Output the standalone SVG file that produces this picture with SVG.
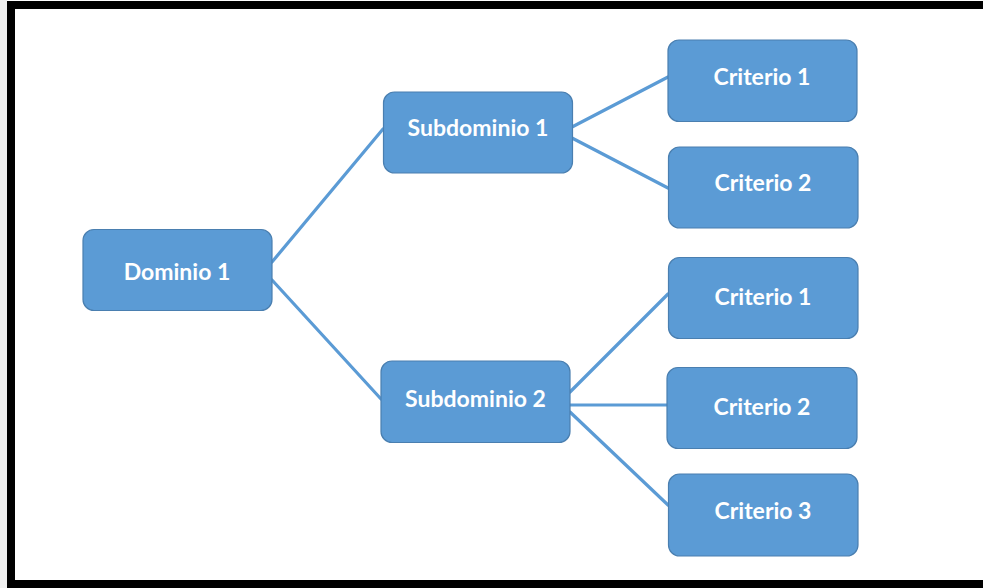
<svg xmlns="http://www.w3.org/2000/svg" width="983" height="588" viewBox="0 0 983 588">
<style>
.node rect{fill:#5b9bd5;stroke:#4a7fb0;stroke-width:1.2}
.node text{fill:#ffffff;font-family:Lato,"Open Sans","Liberation Sans",sans-serif;font-weight:bold;font-size:23px;text-anchor:middle}
.conn line{stroke:#5b9bd5;stroke-width:3.2;stroke-linecap:round}
</style>
<rect x="0" y="0" width="983" height="588" fill="#ffffff"/>
<rect x="0" y="0" width="7" height="588" fill="#f0f0f0"/>
<g id="frame" fill="#000000">
<rect x="7" y="1" width="976" height="8"/>
<rect x="7" y="1" width="8" height="587"/>
<rect x="7" y="580" width="976" height="8"/>
</g>
<g id="connectors" class="conn">
<line x1="272" y1="262" x2="383" y2="129"/>
<line x1="272" y1="280" x2="381" y2="399"/>
<line x1="572" y1="127" x2="668" y2="77"/>
<line x1="572" y1="138" x2="668" y2="188"/>
<line x1="570" y1="392" x2="668" y2="294"/>
<line x1="570" y1="405" x2="667" y2="405"/>
<line x1="570" y1="412" x2="668" y2="505"/>
</g>
<g id="dominio1" class="node"><rect x="83" y="229.5" width="189" height="81" rx="11"/><text x="177" y="279.5">Dominio 1</text></g>
<g id="subdominio1" class="node"><rect x="383.5" y="92" width="189" height="81" rx="11"/><text x="478" y="135.5">Subdominio 1</text></g>
<g id="subdominio2" class="node"><rect x="381" y="361" width="189" height="81.5" rx="11"/><text x="475.5" y="406.5">Subdominio 2</text></g>
<g id="criterio1a" class="node"><rect x="668" y="40" width="189" height="81.5" rx="11"/><text x="762" y="84.5">Criterio 1</text></g>
<g id="criterio2a" class="node"><rect x="668.5" y="147" width="189.5" height="81" rx="11"/><text x="763" y="190.5">Criterio 2</text></g>
<g id="criterio1b" class="node"><rect x="668.5" y="257.5" width="189.5" height="81" rx="11"/><text x="763" y="304.5">Criterio 1</text></g>
<g id="criterio2b" class="node"><rect x="667" y="367.5" width="190" height="81" rx="11"/><text x="762" y="414.5">Criterio 2</text></g>
<g id="criterio3" class="node"><rect x="668.5" y="474" width="189.5" height="82" rx="11"/><text x="763" y="518.5">Criterio 3</text></g>
</svg>
